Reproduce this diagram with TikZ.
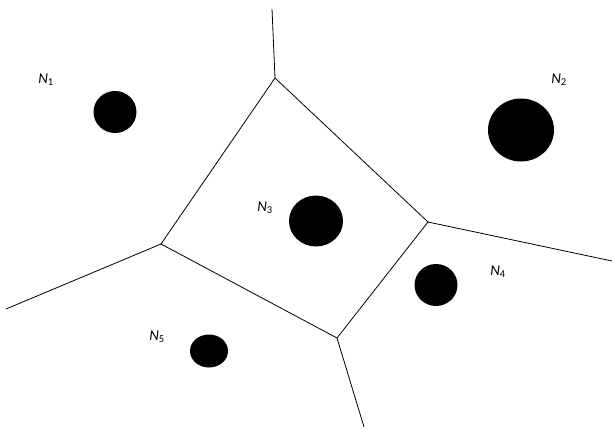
\documentclass[tikz,border=0pt]{standalone}
\usepackage{fontspec}
\setmainfont{Carlito}
\usetikzlibrary{shapes.geometric}

\tikzset{
    site/.style={draw=none, fill=black, ellipse, inner sep=0pt},
    sitelabel/.style={font=\fontsize{15}{18}\selectfont\itshape, inner sep=0pt},
    edge/.style={line width=0.8pt}
}

\begin{document}
\begin{tikzpicture}[x=1pt, y=-1pt]
    \useasboundingbox (0,0) rectangle (612,428);

    % sites
    \node[site, minimum width=43pt, minimum height=42pt] (s1) at (115,112) {};
    \node[site, minimum width=66pt, minimum height=63pt] (s2) at (521,130) {};
    \node[site, minimum width=54pt, minimum height=51pt] (s3) at (316,221) {};
    \node[site, minimum width=43pt, minimum height=42pt] (s4) at (436,285) {};
    \node[site, minimum width=38pt, minimum height=33pt] (s5) at (209,351) {};

    \node[sitelabel] (n1) at (46,80) {N\textsubscript{\upshape 1}};
    \node[sitelabel] (n2) at (559,80) {N\textsubscript{\upshape 2}};
    \node[sitelabel] (n3) at (265,208) {N\textsubscript{\upshape 3}};
    \node[sitelabel] (n4) at (498,272) {N\textsubscript{\upshape 4}};
    \node[sitelabel] (n5) at (157,337) {N\textsubscript{\upshape 5}};

    % cell corners
    \coordinate (top) at (275,78);
    \coordinate (left) at (161,244);
    \coordinate (right) at (428,222);
    \coordinate (bottom) at (337,338);

    \coordinate (topend) at (272,9);
    \coordinate (leftend) at (6,309);
    \coordinate (rightend) at (612,261);
    \coordinate (bottomend) at (364,427);

    \draw[edge] (top) -- (right) -- (bottom) -- (left) -- cycle;
    \draw[edge] (top) -- (topend);
    \draw[edge] (left) -- (leftend);
    \draw[edge] (right) -- (rightend);
    \draw[edge] (bottom) -- (bottomend);
\end{tikzpicture}
\end{document}
